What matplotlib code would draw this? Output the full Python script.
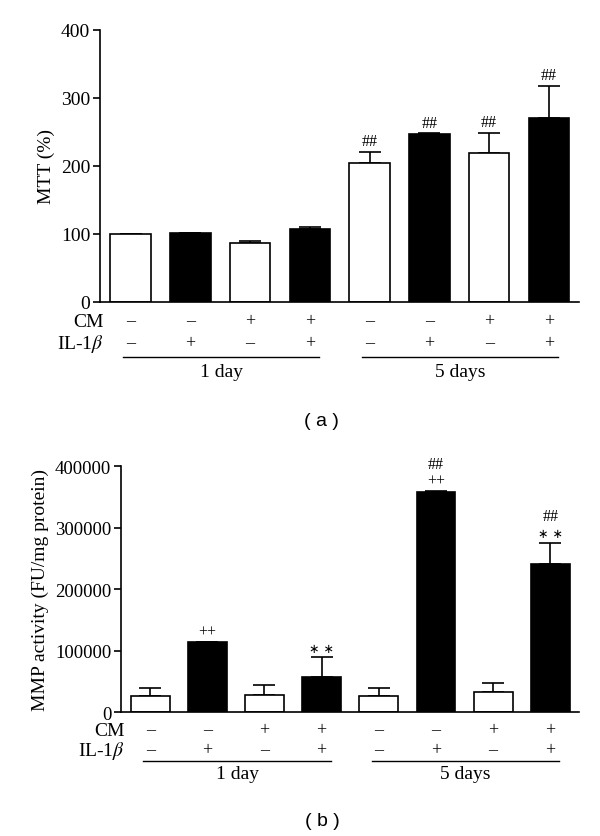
import matplotlib
matplotlib.use('Agg')
import matplotlib.pyplot as plt
import numpy as np

plt.rcParams['font.family'] = ['Liberation Serif', 'DejaVu Serif']
plt.rcParams['mathtext.fontset'] = 'stix'

# conditions (same for both panels)
cm_signs = ['–', '–', '+', '+', '–', '–', '+', '+']
il_signs = ['–', '+', '–', '+', '–', '+', '–', '+']
filled = [False, True, False, True, False, True, False, True]
groups = ['1 day', '5 days']

# panel (a): MTT (%)
mtt_mean = [100, 101, 87, 107, 204, 247, 219, 270]
mtt_err = [0, 0, 2, 3, 17, 1, 30, 48]
mtt_marks = [[], [], [], [], ['##'], ['##'], ['##'], ['##']]

# panel (b): MMP activity (FU/mg protein)
mmp_mean = [26000, 114000, 28000, 57000, 27000, 358000, 33000, 240000]
mmp_err = [13000, 0, 16000, 32000, 12000, 1500, 14000, 35000]
mmp_marks = [[], ['++'], [], ['**'], [], ['++', '##'], [], ['**', '##']]


def draw_panel(ax, means, errs, marks, ylim, yticks, ylabel, caption, rows_y, line_y,
               group_y, cap_xy, fs):
    x = np.arange(len(means))
    colors = ['black' if f else 'white' for f in filled]
    ax.bar(x, means, width=0.68, color=colors, edgecolor='black', linewidth=1.2, zorder=2)
    lower = np.zeros(len(errs))
    ax.errorbar(x, means, yerr=[lower, errs], fmt='none', ecolor='black',
                elinewidth=1.2, capsize=8, capthick=1.2, zorder=1)
    for xi, m, e, lines in zip(x, means, errs, marks):
        for k, s in enumerate(lines):
            if s == '**':
                ax.annotate('∗ ∗', (xi, m + e), xytext=(0, 2 + 12 * k),
                            textcoords='offset points', ha='center', va='bottom',
                            fontsize=9, family='DejaVu Sans')
            else:
                ax.annotate(s, (xi, m + e), xytext=(0, 2 + 12 * k),
                            textcoords='offset points', ha='center', va='bottom',
                            fontsize=11.5)
    ax.set_xlim(-0.51, 7.5)
    ax.set_ylim(*ylim)
    ax.set_yticks(yticks)
    ax.set_xticks([])
    ax.spines['top'].set_visible(False)
    ax.spines['right'].set_visible(False)
    ax.spines['left'].set_linewidth(1.2)
    ax.spines['bottom'].set_linewidth(1.2)
    ax.tick_params(axis='y', direction='out', length=5, width=1.2, labelsize=fs, pad=2)
    ax.set_ylabel(ylabel, fontsize=14)

    tr = ax.get_xaxis_transform()
    ax.text(0.008, rows_y[0], 'CM', transform=ax.transAxes, ha='right', va='center',
            fontsize=14)
    ax.text(0.008, rows_y[1], 'IL-1$\\beta$', transform=ax.transAxes, ha='right',
            va='center', fontsize=14)
    for xi, c, il in zip(x, cm_signs, il_signs):
        ax.text(xi, rows_y[0], c, transform=tr, ha='center', va='center', fontsize=13)
        ax.text(xi, rows_y[1], il, transform=tr, ha='center', va='center', fontsize=13)
    for gi, g in enumerate(groups):
        x0 = gi * 4 - 0.12
        x1 = gi * 4 + 3.16
        ax.plot([x0, x1], [line_y, line_y], color='black', linewidth=1.0,
                transform=tr, clip_on=False)
        ax.text((x0 + x1) / 2, group_y, g, transform=tr, ha='center', va='center',
                fontsize=14)
    ax.text(cap_xy[0], cap_xy[1], caption, transform=ax.transAxes, ha='center',
            va='center', fontsize=14, family='Liberation Sans')


fig = plt.figure(figsize=(6.0, 8.37), dpi=100)
ax1 = fig.add_axes([0.1667, 0.638, 0.798, 0.325])
ax2 = fig.add_axes([0.2017, 0.148, 0.763, 0.294])

draw_panel(ax1, mtt_mean, mtt_err, mtt_marks, (0, 400), [0, 100, 200, 300, 400],
           'MTT (%)', '( a )', (-0.07, -0.151), -0.202, -0.257, (0.463, -0.437), 14)
draw_panel(ax2, mmp_mean, mmp_err, mmp_marks, (0, 400000),
           [0, 100000, 200000, 300000, 400000],
           'MMP activity (FU/mg protein)', '( b )', (-0.073, -0.154), -0.199, -0.248,
           (0.44, -0.439), 13.5)

fig.savefig('out.png', dpi=100)
